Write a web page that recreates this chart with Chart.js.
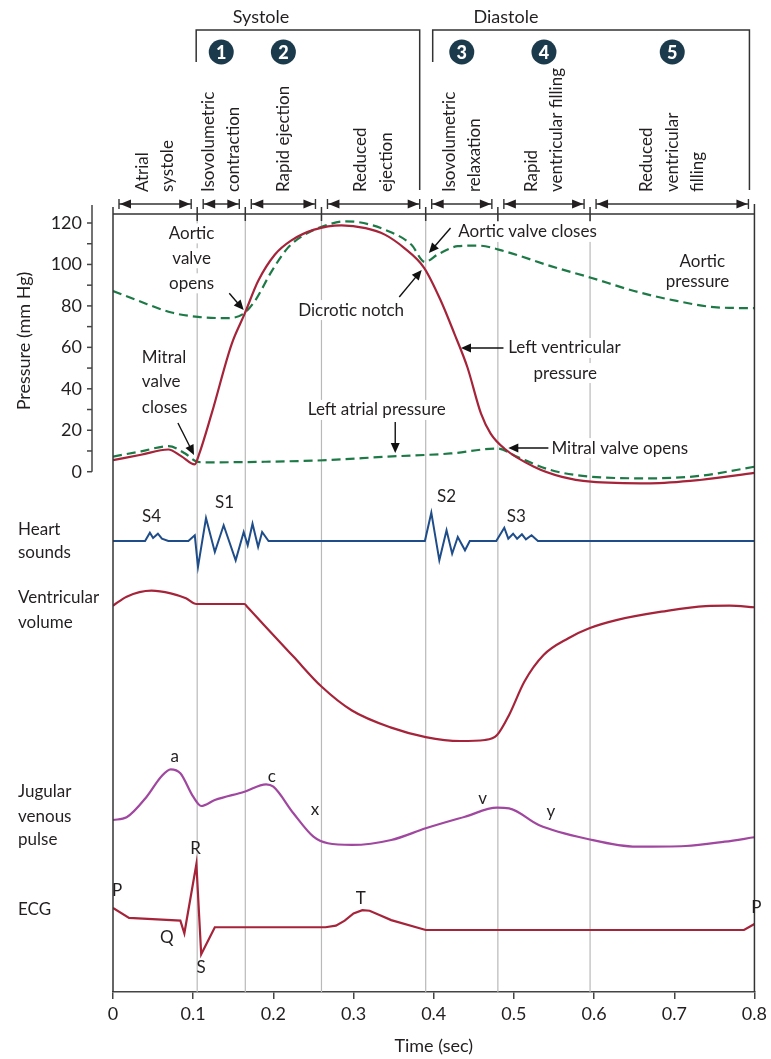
<!DOCTYPE html>
<html lang="en">
<head>
<meta charset="UTF-8">
<title>Cardiac cycle (Wiggers diagram)</title>
<script src="https://cdn.jsdelivr.net/npm/chart.js"></script>
<style>
  body { margin: 0; background: #fff; }
  canvas { display: block; }
</style>
</head>
<body>
<canvas id="myChart" width="771" height="1059"></canvas>
<script>
// ---- data ----
const timeTicks = [0, 0.1, 0.2, 0.3, 0.4, 0.5, 0.6, 0.7, 0.8];
const pressureTicks = [0, 20, 40, 60, 80, 100, 120];
const pressureMinor = [0, 10, 20, 30, 40, 50, 60, 70, 80, 90, 100, 110, 120];

// phase boundaries (sec)
const phaseBounds = [0, 0.105, 0.165, 0.26, 0.39, 0.48, 0.595, 0.8];
const phaseNames = [
  ['Atrial', 'systole'],
  ['Isovolumetric', 'contraction'],
  ['Rapid ejection'],
  ['Reduced', 'ejection'],
  ['Isovolumetric', 'relaxation'],
  ['Rapid', 'ventricular filling'],
  ['Reduced', 'ventricular', 'filling']
];
const phaseNumbers = [null, '1', '2', null, '3', '4', '5'];

// pressures, mm Hg  [time, value]
const lvPressure = [
  [0, 5.6], [0.035, 8.2], [0.069, 10.7], [0.085, 7.5], [0.102, 3.5], [0.107, 8], [0.123, 28], [0.148, 61.6],
  [0.164, 76], [0.181, 92], [0.202, 104.8], [0.222, 111.5], [0.251, 116.8], [0.285, 118.9],
  [0.315, 117.5], [0.339, 114.4], [0.363, 108], [0.388, 98.4], [0.409, 82.4], [0.426, 66.4],
  [0.442, 50.4], [0.459, 28], [0.471, 18.4], [0.488, 11.2], [0.525, 2.4], [0.56, -2.5],
  [0.596, -4.8], [0.67, -5.6], [0.732, -4], [0.8, -0.6]
];
const aorticPressure = [
  [0, 87.2], [0.032, 82.4], [0.073, 76.8], [0.106, 74.7], [0.14, 74.1], [0.162, 76], [0.177, 82.4],
  [0.198, 96.8], [0.218, 108], [0.239, 114.4], [0.268, 119.2], [0.29, 120.8], [0.305, 120.5],
  [0.339, 116.8], [0.372, 109.6], [0.389, 101.2], [0.405, 104.8], [0.43, 108.8], [0.455, 109.1],
  [0.488, 106.4], [0.546, 99.2], [0.596, 93.6], [0.65, 87.2], [0.703, 82.4], [0.753, 79.3], [0.8, 78.9]
];
const atrialPressure = [
  [0, 7.3], [0.035, 9.8], [0.069, 12.3], [0.09, 8.8], [0.103, 5.1], [0.115, 4.5], [0.189, 4.8],
  [0.268, 5.6], [0.339, 7.2], [0.421, 8.8], [0.48, 11.2], [0.504, 7.2], [0.546, 0.8], [0.596, -2.4],
  [0.67, -3.2], [0.732, -2], [0.8, 2.4]
];

// heart sounds, arbitrary amplitude
const heartSounds = [
  [0, 0],
  [0.040, 0], [0.046, 0.83], [0.050, 0.3], [0.056, 0.73], [0.061, 0.23], [0.069, 0],
  [0.094, 0], [0.102, 0.57], [0.106, -2.6], [0.116, 2.3], [0.127, -1.1], [0.138, 1.57], [0.153, -1.93],
  [0.163, 0.9], [0.168, -0.43], [0.174, 1.73], [0.181, -0.6], [0.186, 0.9], [0.194, 0],
  [0.389, 0], [0.397, 2.83], [0.407, -1.93], [0.416, 1.07], [0.423, -1.27], [0.43, 0.4], [0.439, -0.93], [0.445, 0],
  [0.478, 0], [0.488, 1.33], [0.493, 0.23], [0.499, 0.73], [0.504, 0.23], [0.51, 0.67], [0.515, 0.17],
  [0.522, 0.57], [0.53, 0],
  [0.8, 0]
];

// ventricular volume, mL
const ventVolume = [
  [0, 129], [0.017, 134.3], [0.048, 137.8], [0.072, 136.2], [0.091, 133.3], [0.104, 130], [0.164, 130],
  [0.167, 128.6], [0.188, 117.9], [0.225, 99.3], [0.26, 81.8], [0.298, 67.8], [0.347, 57.8], [0.39, 52.3],
  [0.433, 50], [0.464, 50.6], [0.479, 53.5], [0.494, 65.2], [0.513, 84.6], [0.537, 100.2], [0.568, 110],
  [0.594, 115.8], [0.629, 120.7], [0.684, 125.5], [0.739, 128.8], [0.769, 129], [0.8, 128.1]
];

// jugular venous pulse, mm Hg
const jvpTrace = [
  [0, 3.75], [0.017, 4.09], [0.042, 6.66], [0.06, 9.16], [0.072, 10.09], [0.084, 9.59], [0.1, 6.66],
  [0.11, 5.5], [0.127, 6.25], [0.164, 7.29], [0.191, 8.21], [0.2, 7.91], [0.225, 4.59], [0.25, 1.66],
  [0.268, 0.84], [0.298, 0.63], [0.347, 1.25], [0.39, 2.71], [0.439, 4.16], [0.479, 5.29], [0.494, 5.21],
  [0.531, 3.13], [0.592, 1.38], [0.653, 0.41], [0.714, 0.5], [0.763, 1.04], [0.8, 1.59]
];

// ECG, mV
const ecgTrace = [
  [0, 0.40], [0.020, 0.22], [0.084, 0.17], [0.089, -0.06], [0.104, 1.20], [0.110, -0.44], [0.127, 0.05],
  [0.265, 0.05], [0.278, 0.08], [0.289, 0.17], [0.300, 0.30], [0.311, 0.36], [0.320, 0.35], [0.333, 0.27],
  [0.347, 0.18], [0.39, 0], [0.787, 0], [0.8, 0.11]
];

// ---- layout ----
const W = 771, H = 1059;
const A_LEFT = 113, A_RIGHT = 757, A_TOP = 214, A_BOTTOM = 992;
const FONT = "Lato, 'Liberation Sans', sans-serif";
const INK = '#231f20';
const RED = '#a6243a', GREEN = '#1d7a47', BLUE = '#1f4d8a', PURPLE = '#a0479f', NAVY = '#1b3a4b';

// each trace gets its own hidden axis, sized so its band sits at the right height
function band(refPx, refVal, pxPerUnit) {
  return { min: refVal - (A_BOTTOM - refPx) / pxPerUnit, max: refVal + (refPx - A_TOP) / pxPerUnit };
}
const pBand = band(471.7, 0, 2.0725);
const soundBand = band(541, 0, 10);
const volBand = band(741, 50, 1.7125);
const jvpBand = band(850, 0, 8);
const ecgBand = band(930, 0, 55);

// notes in the pressure panel: text, time, mm Hg, align
const pressureNotes = [
  ['Aortic', 0.098, 115.0, 'center'], ['valve', 0.098, 103.0, 'center'], ['opens', 0.098, 90.9, 'center'],
  ['Mitral', 0.036, 54.9, 'left'], ['valve', 0.036, 43.3, 'left'], ['closes', 0.036, 31.2, 'left'],
  ['Dicrotic notch', 0.297, 78.0, 'center'],
  ['Aortic valve closes', 0.517, 115.7, 'center'],
  ['Aortic', 0.735, 101.2, 'center'], ['pressure', 0.729, 92.0, 'center'],
  ['Left ventricular', 0.563, 59.7, 'center'], ['pressure', 0.564, 47.6, 'center'],
  ['Left atrial pressure', 0.329, 29.8, 'center'],
  ['Mitral valve opens', 0.632, 11.4, 'center']
];
// pointer arrows: from (t, p) to (t, p)
const pressurePointers = [
  [0.145, 86.1, 0.163, 78.0],
  [0.081, 23.5, 0.101, 8.1],
  [0.357, 84.3, 0.385, 97.3],
  [0.421, 117.6, 0.394, 105.5],
  [0.487, 59.7, 0.434, 59.7],
  [0.352, 24.0, 0.352, 9.0],
  [0.543, 11.4, 0.493, 11.4]
];
const soundNotes = [['S4', 0.048, 2.4], ['S1', 0.139, 3.8], ['S2', 0.416, 4.4], ['S3', 0.503, 2.4]];
const jvpNotes = [['a', 0.077, 11.7], ['c', 0.198, 9.2], ['x', 0.252, 5.0], ['v', 0.461, 6.4], ['y', 0.546, 4.8]];
const ecgNotes = [['Q', 0.067, -0.145], ['R', 0.103, 1.49], ['S', 0.11, -0.69], ['T', 0.309, 0.58]];
const rowLabels = [
  ['Heart', 530], ['sounds', 553], ['Ventricular', 598], ['volume', 623],
  ['Jugular', 792], ['venous', 817], ['pulse', 840], ['ECG', 910]
];

const toXY = arr => arr.map(([x, y]) => ({ x, y }));

function line(ctx, x1, y1, x2, y2) {
  ctx.beginPath(); ctx.moveTo(x1, y1); ctx.lineTo(x2, y2); ctx.stroke();
}
function head(ctx, x1, y1, x2, y2, len, half) {
  const a = Math.atan2(y2 - y1, x2 - x1);
  ctx.beginPath();
  ctx.moveTo(x2, y2);
  ctx.lineTo(x2 - len * Math.cos(a) + half * Math.sin(a), y2 - len * Math.sin(a) - half * Math.cos(a));
  ctx.lineTo(x2 - len * Math.cos(a) - half * Math.sin(a), y2 - len * Math.sin(a) + half * Math.cos(a));
  ctx.closePath(); ctx.fill();
}
function text(ctx, s, x, y, align = 'center', size = 17) {
  ctx.font = `${size}px ${FONT}`;
  ctx.textAlign = align; ctx.textBaseline = 'middle';
  ctx.fillText(s, x, y);
}

const diagramPlugin = {
  id: 'diagram',
  beforeDatasetsDraw(chart) {
    const { ctx, chartArea: a, scales: { x, y } } = chart;
    ctx.save();
    // phase lines
    ctx.strokeStyle = '#b9b9b9'; ctx.lineWidth = 1.2;
    phaseBounds.slice(1, -1).forEach(t => {
      const px = x.getPixelForValue(t);
      line(ctx, px, a.top, px, a.bottom);
    });
    // white boxes behind the notes so the phase lines stop at the text
    ctx.fillStyle = '#fff';
    ctx.font = `17px ${FONT}`;
    pressureNotes.forEach(([s, t, p, align]) => {
      const w = ctx.measureText(s).width;
      const px = x.getPixelForValue(t), py = y.getPixelForValue(p);
      const left = align === 'left' ? px : px - w / 2;
      ctx.fillRect(left - 3, py - 10, w + 6, 20);
    });
    ctx.restore();
  },
  afterDraw(chart) {
    const { ctx, chartArea: a, scales } = chart;
    const x = scales.x, y = scales.y;
    const X = t => x.getPixelForValue(t);
    ctx.save();
    ctx.fillStyle = INK; ctx.strokeStyle = '#333'; ctx.lineWidth = 1.5;

    // frame
    line(ctx, a.left, 207, a.left, a.bottom);
    line(ctx, a.right, 204, a.right, a.bottom);
    line(ctx, a.left, a.top, a.right, a.top);
    phaseBounds.slice(1, -1).forEach(t => line(ctx, X(t), 207, X(t), a.top + 7));

    // phase arrows
    const ay = 204;
    ctx.lineWidth = 1.4;
    for (let i = 0; i < phaseNames.length; i++) {
      const x1 = X(phaseBounds[i]) + 6, x2 = X(phaseBounds[i + 1]) - 6;
      line(ctx, x1, ay, x2, ay);
      line(ctx, x1, ay - 5, x1, ay + 5);
      line(ctx, x2, ay - 5, x2, ay + 5);
      head(ctx, x2 - 3, ay, x1 + 1, ay, 11, 4.5);
      head(ctx, x1 + 3, ay, x2 - 1, ay, 11, 4.5);
    }

    // phase names, rotated
    ctx.fillStyle = INK;
    phaseNames.forEach((lines, i) => {
      const mid = (X(phaseBounds[i]) + X(phaseBounds[i + 1])) / 2;
      lines.forEach((s, j) => {
        const cx = mid + (j - (lines.length - 1) / 2) * 25.5;
        ctx.save();
        ctx.translate(cx, 192);
        ctx.rotate(-Math.PI / 2);
        text(ctx, s, 0, 0, 'left');
        ctx.restore();
      });
      // numbered circles
      if (phaseNumbers[i]) {
        ctx.fillStyle = NAVY;
        ctx.beginPath(); ctx.arc(mid, 52, 12.5, 0, Math.PI * 2); ctx.fill();
        ctx.fillStyle = '#fff';
        ctx.font = `900 18px ${FONT}`;
        ctx.textAlign = 'center'; ctx.textBaseline = 'middle';
        ctx.fillText(phaseNumbers[i], mid, 53);
        ctx.fillStyle = INK;
      }
    });

    // systole / diastole brackets
    ctx.lineWidth = 1.5;
    const sL = X(0.105) - 1, sR = X(0.39) - 6, dL = X(0.39) + 7, dR = X(0.8) - 5;
    ctx.beginPath(); ctx.moveTo(sL, 62); ctx.lineTo(sL, 30); ctx.lineTo(sR, 30); ctx.lineTo(sR, 190); ctx.stroke();
    ctx.beginPath(); ctx.moveTo(dL, 62); ctx.lineTo(dL, 30); ctx.lineTo(dR, 30); ctx.lineTo(dR, 190); ctx.stroke();
    text(ctx, 'Systole', 261, 17, 'center', 18);
    text(ctx, 'Diastole', 506, 17, 'center', 18);

    // pressure axis, set off to the left of the frame
    const axX = a.left - 21;
    ctx.strokeStyle = '#444'; ctx.lineWidth = 1.5;
    line(ctx, axX, 205, axX, y.getPixelForValue(0));
    pressureMinor.forEach(v => line(ctx, axX - 5, y.getPixelForValue(v), axX, y.getPixelForValue(v)));
    ctx.save();
    ctx.translate(24, 341);
    ctx.rotate(-Math.PI / 2);
    text(ctx, 'Pressure (mm Hg)', 0, 0, 'center', 18);
    ctx.restore();

    // pressure notes and pointers
    pressureNotes.forEach(([s, t, p, align]) => text(ctx, s, X(t), y.getPixelForValue(p), align));
    ctx.strokeStyle = '#111'; ctx.fillStyle = '#111'; ctx.lineWidth = 1.4;
    pressurePointers.forEach(([t1, p1, t2, p2]) => {
      const x1 = X(t1), y1 = y.getPixelForValue(p1), x2 = X(t2), y2 = y.getPixelForValue(p2);
      const ang = Math.atan2(y2 - y1, x2 - x1);
      line(ctx, x1, y1, x2 - 6 * Math.cos(ang), y2 - 6 * Math.sin(ang));
      head(ctx, x1, y1, x2, y2, 10, 4.5);
    });
    ctx.fillStyle = INK;

    // lower panel notes
    soundNotes.forEach(([s, t, v]) => text(ctx, s, X(t), scales.ySound.getPixelForValue(v)));
    jvpNotes.forEach(([s, t, v]) => text(ctx, s, X(t), scales.yJvp.getPixelForValue(v)));
    ecgNotes.forEach(([s, t, v]) => text(ctx, s, X(t), scales.yEcg.getPixelForValue(v)));
    text(ctx, 'P', a.left + 4, scales.yEcg.getPixelForValue(0.71));
    text(ctx, 'P', a.right + 2, scales.yEcg.getPixelForValue(0.4));
    rowLabels.forEach(([s, py]) => text(ctx, s, 18, py, 'left'));

    ctx.restore();
  }
};

Chart.defaults.font.family = FONT;
Chart.defaults.color = INK;

const trace = (data, color, axis, extra) => Object.assign({
  data: toXY(data), yAxisID: axis, borderColor: color, borderWidth: 2.2,
  pointRadius: 0, fill: false, cubicInterpolationMode: 'monotone'
}, extra || {});

new Chart(document.getElementById('myChart'), {
  type: 'line',
  data: {
    datasets: [
      trace(lvPressure, RED, 'y'),
      trace(aorticPressure, GREEN, 'y', { borderDash: [9, 5] }),
      trace(atrialPressure, GREEN, 'y', { borderDash: [9, 5] }),
      trace(heartSounds, BLUE, 'ySound', { cubicInterpolationMode: 'default', tension: 0, borderWidth: 2 }),
      trace(ventVolume, RED, 'yVol'),
      trace(jvpTrace, PURPLE, 'yJvp'),
      trace(ecgTrace, RED, 'yEcg', { cubicInterpolationMode: 'default', tension: 0 })
    ]
  },
  options: {
    responsive: false,
    animation: false,
    events: [],
    layout: { padding: { top: A_TOP, right: W - A_RIGHT, left: 0, bottom: 0 } },
    plugins: { legend: { display: false }, tooltip: { enabled: false } },
    scales: {
      x: {
        type: 'linear', min: 0, max: 0.8,
        afterBuildTicks: s => { s.ticks = timeTicks.map(v => ({ value: v })); },
        afterFit: s => { s.height = H - A_BOTTOM; },
        ticks: {
          callback: v => (v === 0 ? '0' : v.toFixed(1)),
          font: { size: 18 }, color: INK, padding: 4, maxRotation: 0, autoSkip: false
        },
        grid: { drawOnChartArea: false, tickLength: 7, color: '#444', lineWidth: 1.5 },
        border: { color: '#444', width: 1.5 },
        title: { display: true, text: 'Time (sec)', font: { size: 18 }, color: INK, padding: { top: 0, bottom: 2 } }
      },
      y: {
        type: 'linear', position: 'left', min: pBand.min, max: pBand.max,
        afterBuildTicks: s => { s.ticks = pressureMinor.map(v => ({ value: v })); },
        afterFit: s => { s.width = A_LEFT; },
        ticks: {
          callback: v => (pressureTicks.includes(v) ? String(v) : ''),
          font: { size: 18 }, color: INK, padding: 31, autoSkip: false
        },
        grid: { display: false, drawTicks: false },
        border: { display: false }
      },
      ySound: { type: 'linear', axis: 'y', display: false, min: soundBand.min, max: soundBand.max },
      yVol: { type: 'linear', axis: 'y', display: false, min: volBand.min, max: volBand.max },
      yJvp: { type: 'linear', axis: 'y', display: false, min: jvpBand.min, max: jvpBand.max },
      yEcg: { type: 'linear', axis: 'y', display: false, min: ecgBand.min, max: ecgBand.max }
    }
  },
  plugins: [diagramPlugin]
});
</script>
</body>
</html>
